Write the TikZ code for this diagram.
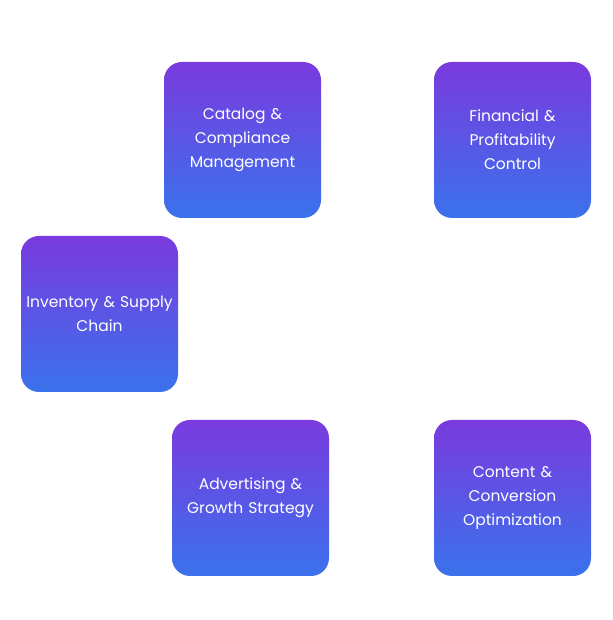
\documentclass[tikz,border=0pt]{standalone}
\usepackage{fontspec}
\setmainfont{Poppins}
\definecolor{boxtop}{RGB}{122,58,222}
\definecolor{boxbot}{RGB}{58,114,236}

\begin{document}
\begin{tikzpicture}[x=1pt,y=1pt]
\tikzset{card/.style = {shape=rectangle,rounded corners=18pt,minimum width=157pt,minimum height=156pt,
  inner sep=2pt,top color=boxtop,bottom color=boxbot,draw=none,text=white,text width=152pt,align=center,
  font=\fontsize{15.5}{24}\selectfont}}
\useasboundingbox (0,0) rectangle (612,620);
% cards
\node[card] (cat) at (242.5,480) {Catalog \&\\Compliance\\Management};
\node[card] (fin) at (512.5,480) {Financial \&\\Profitability\\Control};
\node[card] (inv) at (99.5,306) {Inventory \& Supply\\Chain};
\node[card] (adv) at (250.5,122) {Advertising \&\\Growth Strategy};
\node[card] (con) at (512.5,122) {Content \&\\Conversion\\Optimization};
\end{tikzpicture}
\end{document}
